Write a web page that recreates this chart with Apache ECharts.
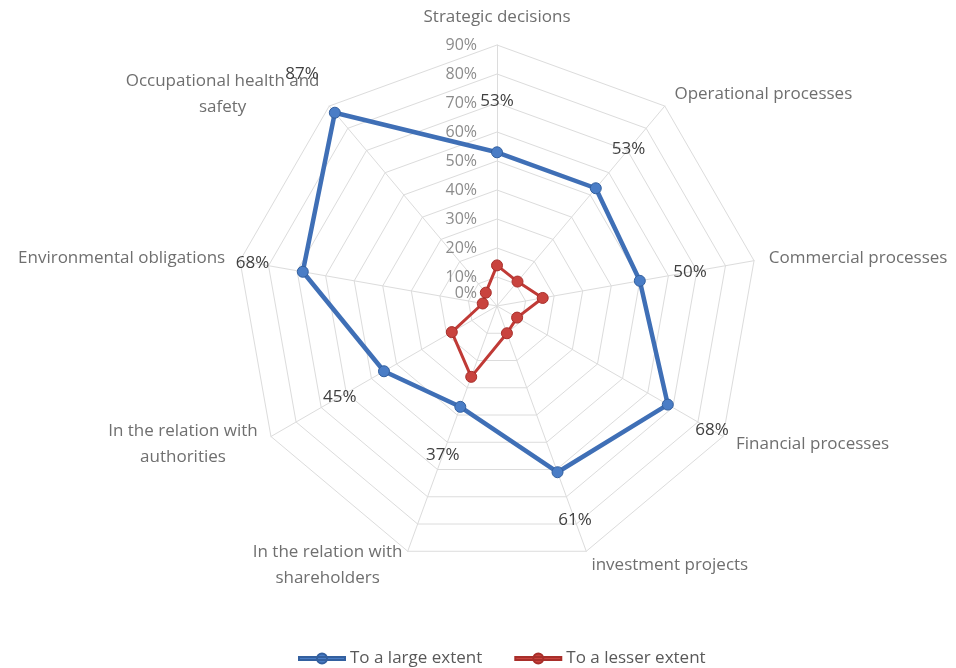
<!DOCTYPE html>
<html>
<head>
<meta charset="utf-8">
<script src="https://cdn.jsdelivr.net/npm/echarts@6/dist/echarts.min.js"></script>
<style>
html,body{margin:0;padding:0;background:#fff;}
#chart{width:956px;height:668px;}
</style>
</head>
<body>
<div id="chart"></div>
<script>
const indicatorNames = [
  'Strategic decisions',
  'Operational processes',
  'Commercial processes',
  'Financial processes',
  'investment projects',
  'In the relation with\nshareholders',
  'In the relation with\nauthorities',
  'Environmental obligations',
  'Occupational health and\nsafety'
];
const seriesNames = ['To a large extent', 'To a lesser extent'];
const largeExtent = [53, 53, 50, 68, 61, 37, 45, 68, 87];
const lesserExtent = [14, 11, 16, 8, 10, 26, 18, 5, 6];
const axisMin = 0;
const axisMax = 90;

const CX = 497, CY = 306, R = 261, LABEL_OUT = 51;
const FONT = 'Open Sans';
const NAME_SIZE = 17;

// ECharts lays radar indicators counter-clockwise; reorder so they run clockwise.
const order = [0].concat(indicatorNames.map((_, i) => i).slice(1).reverse());
const pick = arr => order.map(i => arr[i]);

const measureCtx = document.createElement('canvas').getContext('2d');
measureCtx.font = NAME_SIZE + 'px "' + FONT + '"';
function nameFormatter(name) {
  if (name.indexOf('\n') < 0) return name;
  const lines = name.split('\n');
  const w = Math.ceil(Math.max.apply(null, lines.map(l => measureCtx.measureText(l).width)));
  return lines.map(l => '{c' + w + '|' + l + '}').join('\n');
}
const richNames = {};
indicatorNames.forEach(n => {
  if (n.indexOf('\n') < 0) return;
  const lines = n.split('\n');
  const w = Math.ceil(Math.max.apply(null, lines.map(l => measureCtx.measureText(l).width)));
  richNames['c' + w] = { width: w, align: 'center', color: '#6f6f6f', fontFamily: FONT, fontSize: NAME_SIZE, lineHeight: 26 };
});

const chart = echarts.init(document.getElementById('chart'));

const indicator = order.map((idx, k) => {
  const o = { name: indicatorNames[idx], min: axisMin, max: axisMax };
  if (k === 0) {
    o.axisLabel = {
      show: true,
      margin: 20,
      color: '#8c8c8c',
      fontFamily: FONT,
      fontSize: 16,
      formatter: v => v === 0 ? '{z|0%}' : v + '%',
      rich: { z: { padding: [0, 0, 26, 0], color: '#8c8c8c', fontFamily: FONT, fontSize: 16 } }
    };
  }
  return o;
});

const iconPath = 'path://M0,3.5H46V6.5H0Z M18,5A5,5,0,1,1,28,5A5,5,0,1,1,18,5Z';

chart.setOption({
  animation: false,
  backgroundColor: '#ffffff',
  legend: {
    bottom: -4,
    left: 293,
    itemGap: 32,
    itemWidth: 46,
    itemHeight: 10,
    textStyle: { color: '#595959', fontFamily: FONT, fontSize: 17 },
    data: [
      { name: seriesNames[0], icon: iconPath },
      { name: seriesNames[1], icon: iconPath }
    ]
  },
  radar: {
    center: [CX, CY],
    radius: R,
    startAngle: 90,
    shape: 'polygon',
    splitNumber: 9,
    nameGap: 15,
    indicator: indicator,
    axisName: {
      color: '#6f6f6f', fontFamily: FONT, fontSize: NAME_SIZE, lineHeight: 26,
      formatter: nameFormatter,
      rich: richNames
    },
    axisLabel: { show: false },
    axisTick: { show: false },
    axisLine: { lineStyle: { color: '#dcdcdc', width: 1 } },
    splitLine: { lineStyle: { color: '#dcdcdc', width: 1 } },
    splitArea: { show: false }
  },
  series: [
    {
      name: seriesNames[0],
      type: 'radar',
      z: 3,
      symbol: 'circle',
      symbolSize: 11,
      lineStyle: { color: '#3F6FB6', width: 4.5 },
      itemStyle: { color: '#4A7DC6', borderColor: '#33609F', borderWidth: 1 },
      label: {
        show: true,
        formatter: p => p.value + '%',
        color: '#404040',
        fontFamily: FONT,
        fontSize: 17
      },
      labelLayout: function (params) {
        const r = params.rect;
        const sx = r.x + r.width / 2, sy = r.y + r.height / 2;
        const dx = sx - CX, dy = sy - CY;
        const d = Math.sqrt(dx * dx + dy * dy) || 1;
        return {
          x: sx + dx / d * LABEL_OUT,
          y: sy + dy / d * LABEL_OUT,
          align: 'center',
          verticalAlign: 'middle'
        };
      },
      data: [{ name: seriesNames[0], value: pick(largeExtent) }]
    },
    {
      name: seriesNames[1],
      type: 'radar',
      z: 2,
      symbol: 'circle',
      symbolSize: 11,
      lineStyle: { color: '#C03A36', width: 3 },
      itemStyle: { color: '#C9433E', borderColor: '#A82E2A', borderWidth: 1 },
      label: { show: false },
      data: [{ name: seriesNames[1], value: pick(lesserExtent) }]
    }
  ]
});
</script>
</body>
</html>
